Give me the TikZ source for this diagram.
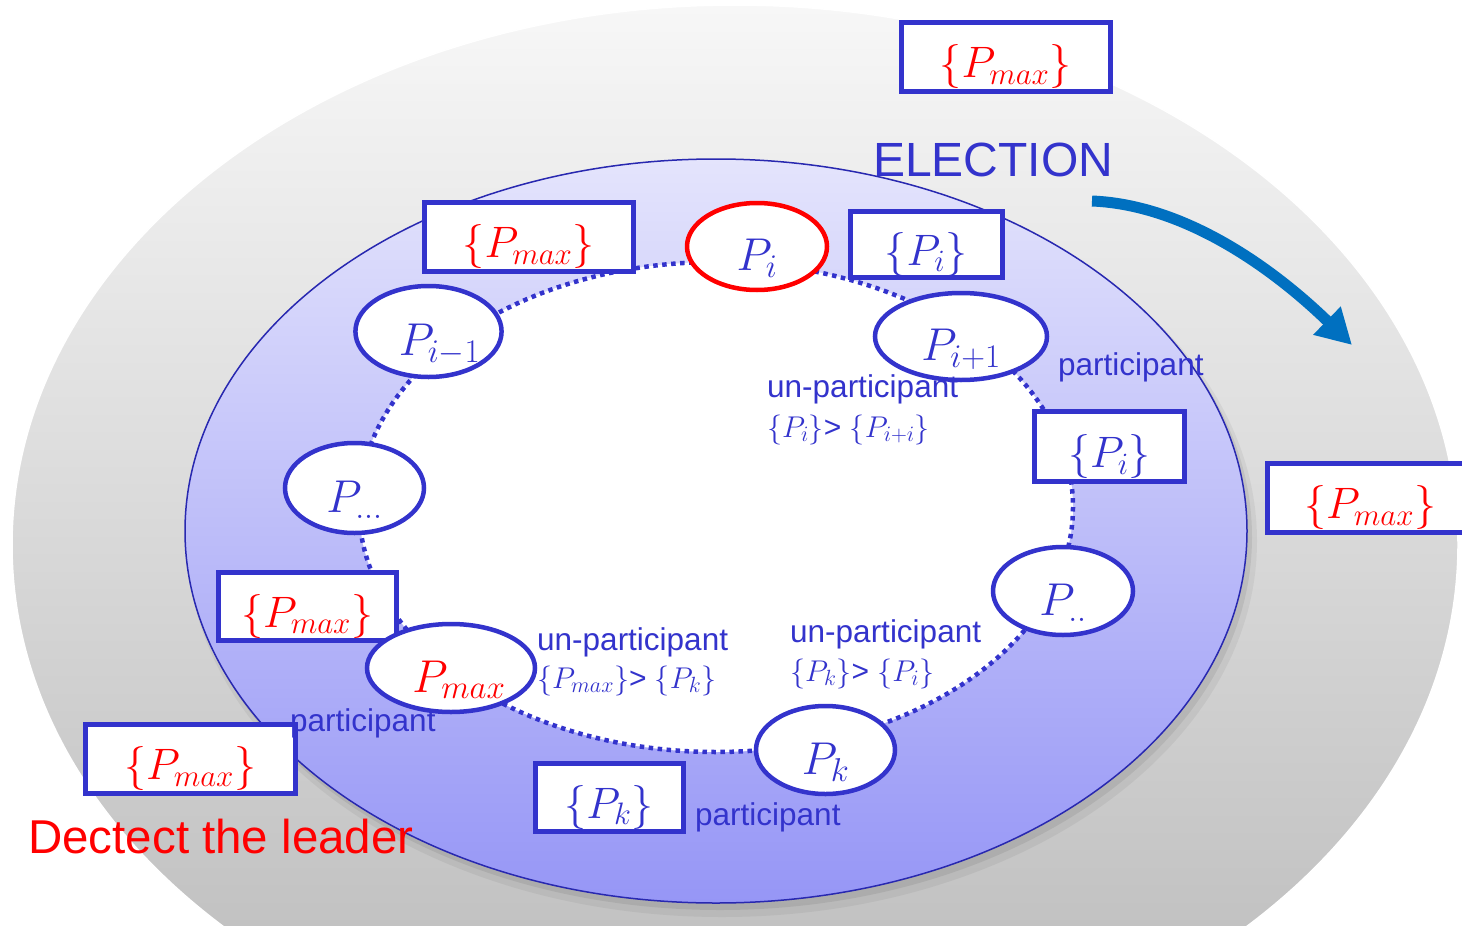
\RequirePackage{fix-cm}
\documentclass[tikz,border=0pt]{standalone}
\usepackage[no-math]{fontspec}
\setmainfont{Liberation Sans}
\usetikzlibrary{arrows.meta,shapes.geometric}
\DeclareMathSizes{46}{46}{33}{25}
\DeclareMathSizes{44}{44}{31}{22}
\DeclareMathSizes{30}{30}{22}{16}
\definecolor{pblue}{RGB}{51,51,204}
\definecolor{pred}{RGB}{255,0,0}
\definecolor{arrowblue}{RGB}{0,112,192}
\definecolor{ringedge}{RGB}{40,40,176}
\begin{document}
\begin{tikzpicture}[x=1pt,y=-1pt,
  proc/.style={ellipse, draw=pblue, line width=4.5pt, fill=white, inner sep=0pt,
    text=pblue, font=\fontsize{46}{52}\selectfont, text height=48pt, text depth=0pt},
  msgbox/.style={rectangle, draw=pblue, line width=5pt, fill=white, inner sep=0pt,
    text=pblue, font=\fontsize{44}{50}\selectfont, text height=42pt, text depth=0pt},
  lbl/.style={text=pblue, font=\fontsize{31.5}{36}\selectfont, inner sep=0pt, anchor=base west},
  mlbl/.style={text=pblue, font=\fontsize{30}{34}\selectfont, inner sep=0pt, anchor=base west},
]
\useasboundingbox (0,0) rectangle (1462,926);
\clip (0,0) rectangle (1462,926);
\fill[white] (0,0) rectangle (1462,926);
% outer gray disc
\shade[top color={rgb,255:red,247;green,247;blue,247},
       bottom color={rgb,255:red,185;green,185;blue,185},
       draw=white, line width=1.5pt]
  (735,545) ellipse [x radius=723, y radius=540];
% shadow of the inner blue disc
\fill[black, opacity=0.05] (722,541) ellipse [x radius=535, y radius=376];
\fill[black, opacity=0.07] (720,537) ellipse [x radius=532, y radius=373];
% inner blue disc
\shade[top color={rgb,255:red,228;green,228;blue,252},
       bottom color={rgb,255:red,150;green,150;blue,246},
       draw=ringedge, line width=1.5pt]
  (716,531) ellipse [x radius=531, y radius=372];
% dotted ring
\draw[pblue, line width=4.5pt, dash pattern=on 4.5pt off 4.5pt, fill=white]
  (716,507) ellipse [x radius=357, y radius=245];
% message boxes
\node[msgbox, minimum width=209pt, minimum height=69pt, text=pred] (bTop) at (1005.5,56.5) {$\{P_{max}\}$};
\node[msgbox, minimum width=209pt, minimum height=69pt, text=pred] (bUL) at (528.5,236.5) {$\{P_{max}\}$};
\node[msgbox, minimum width=152pt, minimum height=66pt] (bPiTop) at (926,244) {$\{P_i\}$};
\node[msgbox, minimum width=150pt, minimum height=70pt] (bPiR) at (1109.5,446.5) {$\{P_i\}$};
\node[msgbox, minimum width=206pt, minimum height=69pt, text=pred] (bR) at (1370,497.5) {$\{P_{max}\}$};
\node[msgbox, minimum width=178pt, minimum height=68pt, text=pred] (bL) at (307,606) {$\{P_{max}\}$};
\node[msgbox, minimum width=210pt, minimum height=69pt, text=pred] (bBL) at (190,758.5) {$\{P_{max}\}$};
\node[msgbox, minimum width=148pt, minimum height=68pt] (bPk) at (609,797) {$\{P_k\}$};
% processes
\node[proc, draw=red, minimum width=140pt, minimum height=87pt] (pi) at (757,246.5) {$P_i$};
\node[proc, minimum width=172pt, minimum height=87pt] (pip) at (961,336.5) {$P_{i+1}$};
\node[proc, minimum width=139pt, minimum height=91pt] (pim) at (428.5,331.5) {\hspace{22pt}$P_{i-1}$};
\node[proc, minimum width=139pt, minimum height=90pt] (pdots) at (354.5,488) {$P_{...}$};
\node[proc, minimum width=140pt, minimum height=88pt] (pdd) at (1063,591) {$P_{..}$};
\node[proc, minimum width=139pt, minimum height=88pt] (pk) at (825.5,750) {$P_k$};
\node[proc, minimum width=168pt, minimum height=88pt, text=pred] (pmax) at (451,668) {\hspace{16pt}$P_{max}$};
% labels
\node[lbl, font=\fontsize{48}{56}\selectfont] (elec) at (873,176) {ELECTION};
\node[lbl] (partR) at (1058,375) {participant};
\node[lbl] (un1) at (767,397) {un-participant};
\node[mlbl] (un1m) at (767,437) {$\{P_i\}$> $\{P_{i+i}\}$};
\node[lbl] (un2) at (537,650) {un-participant};
\node[mlbl] (un2m) at (537,688) {$\{P_{max}\}$> $\{P_k\}$};
\node[lbl] (un3) at (790,642) {un-participant};
\node[mlbl] (un3m) at (790,681) {$\{P_k\}$> $\{P_i\}$};
\node[lbl] (partL) at (290,731) {participant};
\node[lbl] (partB) at (695,825) {participant};
\node[lbl, text=pred, font=\fontsize{47.5}{54}\selectfont] (leader) at (28,853) {Dectect the leader};
% election arrow
\coordinate (arrS) at (1092,201);
\coordinate (arrE) at (1352,345);
\draw[arrowblue, line width=11pt, -{Triangle[length=35pt,width=37pt]}]
  (arrS) .. controls (1190,205) and (1280,275) .. (arrE);
\end{tikzpicture}
\end{document}
